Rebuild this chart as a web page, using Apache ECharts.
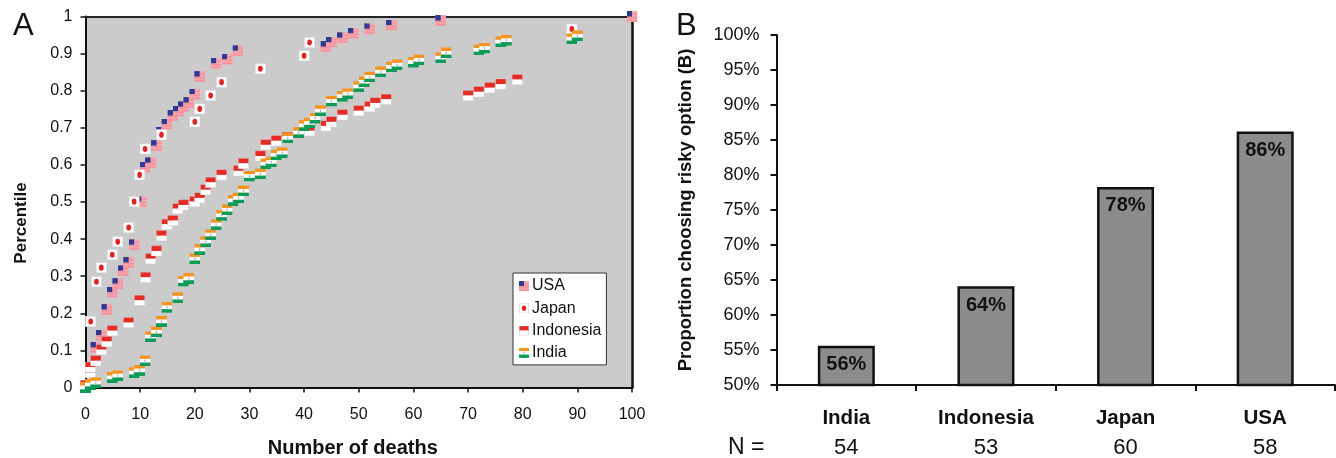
<!DOCTYPE html>
<html>
<head>
<meta charset="utf-8">
<style>html,body{margin:0;padding:0;background:#fff}#c{width:1336px;height:458px}</style>
<script src="https://cdn.jsdelivr.net/npm/echarts@6/dist/echarts.min.js"></script>
</head>
<body>
<div id="c"></div>
<script>
var usaPoints = [[1.9,.108],[2.9,.141],[3.9,.21],[4.9,.257],[5.9,.28],[6.9,.315],[7.9,.337],[8.9,.385],[10.2,.501],[10.9,.594],[11.9,.606],[13,.652],[13.9,.688],[14.9,.71],[16,.733],[17,.745],[17.9,.757],[18.9,.768],[20,.791],[20.9,.838],[23.9,.874],[25.9,.885],[27.9,.908],[44,.919],[45,.931],[47,.943],[49,.955],[52,.967],[56,.977],[65,.989],[100,1]];
var japanPoints = [[.95,.178],[2,.285],[2.9,.323],[4.9,.358],[5.9,.393],[7.9,.431],[8.9,.501],[9.9,.573],[10.9,.643],[13.9,.681],[20,.716],[20.9,.751],[22.9,.787],[24.9,.823],[32,.859],[40,.894],[41,.93],[89,.966]];
var indonesiaPoints = [[0,.006],[.9,.04],[.9,.055],[1.9,.072],[2.9,.102],[3.9,.124],[4.9,.153],[7.9,.175],[9.9,.235],[11,.297],[11.9,.347],[13,.368],[13.9,.409],[14.9,.44],[16,.45],[16.9,.482],[17.9,.492],[20,.501],[20.9,.511],[22,.533],[22.9,.553],[24.9,.573],[28,.584],[28.9,.604],[32,.624],[33,.654],[34.9,.665],[36.9,.675],[41,.692],[44,.705],[45,.716],[47,.735],[50,.746],[52,.757],[53,.767],[55,.777],[70,.787],[72,.797],[74,.808],[76,.818],[79,.83]];
var indiaPoints = [[0,0],[.9,.008],[1.9,.013],[4.9,.027],[5.9,.032],[8.9,.04],[9.9,.046],[10.9,.072],[11.9,.137],[13,.15],[13.9,.178],[14.9,.216],[16.9,.242],[17.9,.287],[18.9,.294],[20,.347],[20.9,.372],[22,.393],[22.9,.412],[23.9,.439],[24.9,.464],[25.9,.479],[27,.504],[28,.511],[28.9,.53],[30,.57],[32,.576],[33,.603],[34,.608],[34.9,.627],[36,.633],[37,.673],[39,.687],[40,.706],[41,.713],[42,.726],[43,.746],[45,.772],[47,.785],[48,.792],[50,.811],[51,.824],[52,.837],[54,.851],[56,.864],[57,.87],[60,.877],[61,.883],[65,.889],[66,.902],[72,.91],[73,.915],[76,.932],[77,.936],[89,.94],[90,.948]];
var countries = ['India','Indonesia','Japan','USA'];
var riskyShare = [55.6,64.1,78.3,86.2];
var sampleSizes = [54,53,60,58];
var seriesNames = ['USA','Japan','Indonesia','India'];

function svg(body){return 'image://data:image/svg+xml;charset=utf-8,'+encodeURIComponent('<svg xmlns="http://www.w3.org/2000/svg" width="18" height="18" viewBox="0 0 18 18">'+body+'</svg>');}
var edge='<rect x=".5" y=".5" width="17" height="17" fill="none" stroke="#cbcbcb"/>';
var icons = {
 USA: svg('<rect width="18" height="18" fill="#f9a3ab"/><rect y="4" width="18" height="2" fill="#f58f9a"/><rect y="10" width="18" height="2" fill="#f58f9a"/><rect y="15" width="18" height="2" fill="#f58f9a"/><rect width="9" height="9" fill="#2d3a96"/>'),
 Japan: svg('<rect width="18" height="18" fill="#fff"/><ellipse cx="9" cy="9" rx="3.8" ry="5" fill="#ee1c1c"/>'+edge),
 Indonesia: svg('<rect width="18" height="9" fill="#e92a22"/><rect y="9" width="18" height="9" fill="#fff"/>'+edge),
 India: svg('<rect width="18" height="6" fill="#f7941e"/><rect y="6" width="18" height="6" fill="#fff"/><rect x="8" y="7" width="2" height="4" fill="#9db4d6"/><rect y="12" width="18" height="6" fill="#0b9d58"/>')
};
var pointSets = {USA:usaPoints,Japan:japanPoints,Indonesia:indonesiaPoints,India:indiaPoints};
var F='"Liberation Sans",Arial,sans-serif', K='#111';

var chart = echarts.init(document.getElementById('c'),null,{renderer:'canvas'});
chart.setOption({
 animation:false,
 textStyle:{fontFamily:F},
 title:[
  {text:'A',left:13,top:11,padding:0,textStyle:{fontFamily:F,fontSize:31,fontWeight:'normal',color:K}},
  {text:'B',left:676,top:11,padding:0,textStyle:{fontFamily:F,fontSize:31,fontWeight:'normal',color:K}}
 ],
 legend:{
  show:true,orient:'vertical',left:513,top:273,padding:[4,5,3,6],itemGap:4.3,itemWidth:10,itemHeight:10,
  backgroundColor:'#fff',borderColor:'#333',borderWidth:1,
  data:seriesNames.map(function(n){return {name:n,icon:icons[n]};}),
  textStyle:{fontFamily:F,fontSize:16,lineHeight:18,color:K,padding:[0,0,0,-2]}
 },
 grid:[
  {left:85.5,top:16.5,width:546.5,height:371,show:true,backgroundColor:'#cbcbcb',borderWidth:0,outerBoundsMode:'none'},
  {left:776.5,top:35,width:558.5,height:350,outerBoundsMode:'none'}
 ],
 xAxis:[
  {gridIndex:0,type:'value',min:0,max:100,interval:10,position:'bottom',
   name:'Number of deaths',nameLocation:'middle',nameGap:51,nameTextStyle:{fontFamily:F,fontSize:20,fontWeight:'bold',color:K,padding:[0,12,0,0]},
   splitLine:{show:false},axisLine:{show:true,onZero:false,lineStyle:{color:'#111',width:2}},axisTick:{show:true,length:5,lineStyle:{color:'#111',width:1.5}},
   axisLabel:{fontFamily:F,fontSize:16,color:K,margin:19}},
  {gridIndex:0,type:'value',min:0,max:100,position:'top',axisLine:{show:true,onZero:false,lineStyle:{color:'#222',width:2}},axisTick:{show:false},axisLabel:{show:false},splitLine:{show:false}},
  {gridIndex:1,type:'category',data:countries,position:'bottom',
   axisLine:{show:true,onZero:false,lineStyle:{color:'#111',width:2}},axisTick:{show:true,length:6,lineStyle:{color:'#111',width:2}},
   axisLabel:{margin:18,interval:0,
    formatter:function(v,i){return '{c|'+v+'}\n{n|'+sampleSizes[i]+'}';},
    rich:{c:{fontFamily:F,fontSize:20.5,fontWeight:'bold',color:K,lineHeight:30},n:{fontFamily:F,fontSize:22,color:K,lineHeight:30}}}}
 ],
 yAxis:[
  {gridIndex:0,type:'value',min:0,max:1,interval:.1,position:'left',
   name:'Percentile',nameLocation:'middle',nameGap:56,nameTextStyle:{fontFamily:F,fontSize:17,fontWeight:'bold',color:K,padding:[0,0,0,-42]},
   splitLine:{show:false},axisLine:{show:true,onZero:false,lineStyle:{color:'#111',width:2}},axisTick:{show:true,length:5,lineStyle:{color:'#111',width:1.5}},
   axisLabel:{fontFamily:F,fontSize:16,color:K,margin:13,padding:[2,0,0,0],verticalAlignMinLabel:'middle',verticalAlignMaxLabel:'middle',formatter:function(v){return String(+v.toFixed(1));}}},
  {gridIndex:0,type:'value',min:0,max:1,position:'right',axisLine:{show:true,onZero:false,lineStyle:{color:'#111',width:2.5}},axisTick:{show:false},axisLabel:{show:false},splitLine:{show:false}},
  {gridIndex:1,type:'value',min:50,max:100,interval:5,position:'left',
   name:'Proportion choosing risky option (B)',nameLocation:'middle',nameGap:81,nameTextStyle:{fontFamily:F,fontSize:18.5,fontWeight:'bold',color:K},
   splitLine:{show:false},axisLine:{show:true,onZero:false,lineStyle:{color:'#111',width:2}},axisTick:{show:true,length:6,lineStyle:{color:'#111',width:2}},
   axisLabel:{fontFamily:F,fontSize:18,color:K,margin:17,padding:[3,0,0,0],verticalAlignMinLabel:'middle',verticalAlignMaxLabel:'middle',formatter:'{value}%'}}
 ],
 series:seriesNames.map(function(n){
  return {name:n,type:'scatter',xAxisIndex:0,yAxisIndex:0,data:pointSets[n],symbol:icons[n],symbolSize:[11,11],clip:false,itemStyle:{opacity:1},z:3};
 }).concat([{
  name:'Proportion',type:'bar',xAxisIndex:2,yAxisIndex:2,data:riskyShare,barWidth:57,
  itemStyle:{color:'#8c8c8c',borderColor:'#111',borderWidth:2.5},
  label:{show:true,position:'insideTop',distance:9,fontFamily:F,fontSize:20,fontWeight:'bold',color:K,formatter:function(p){return Math.round(p.value)+'%';}}
 }]),
 graphic:[{type:'text',left:728,top:436,style:{text:'N =',fontFamily:F,fontSize:23,fill:K}}]
});
</script>
</body>
</html>
